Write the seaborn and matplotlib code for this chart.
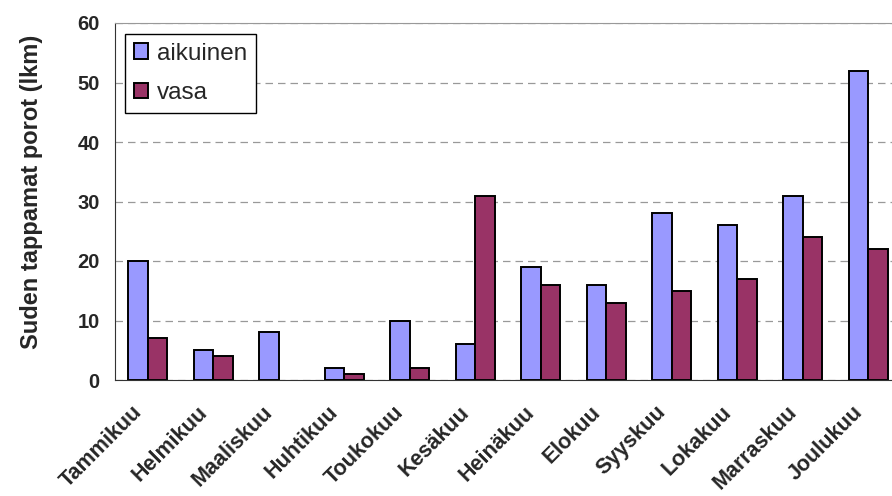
import numpy as np
import pandas as pd
import matplotlib
matplotlib.use("Agg")
import matplotlib.pyplot as plt
import matplotlib.transforms as mtransforms
import seaborn as sns

# data
months = ["Tammikuu", "Helmikuu", "Maaliskuu", "Huhtikuu", "Toukokuu", "Kesäkuu",
          "Heinäkuu", "Elokuu", "Syyskuu", "Lokakuu", "Marraskuu", "Joulukuu"]
aikuinen = [20, 5, 8, 2, 10, 6, 19, 16, 28, 26, 31, 52]
vasa = [7, 4, 0, 1, 2, 31, 16, 13, 15, 17, 24, 22]
series = ["aikuinen", "vasa"]
colors = ["#9999FF", "#993366"]

df = pd.DataFrame({
    "kuukausi": months * 2,
    "lkm": aikuinen + vasa,
    "sarja": ["aikuinen"] * len(months) + ["vasa"] * len(months),
})

sns.set_style("white")
plt.rcParams["font.family"] = ["Liberation Sans", "DejaVu Sans"]

fig = plt.figure(figsize=(8.92, 4.96), dpi=100)
# plot area runs a little past the right edge of the image
ax = fig.add_axes([115 / 892, 116 / 496, 786 / 892, 357 / 496])

sns.barplot(data=df, x="kuukausi", y="lkm", hue="sarja", hue_order=series,
            palette=colors, width=0.6, edgecolor="black", linewidth=1.4,
            saturation=1, ax=ax)

leg = ax.legend(loc="upper left", bbox_to_anchor=(125 / 892, 1 - 34 / 496),
                bbox_transform=fig.transFigure, borderaxespad=0, fontsize=17.5,
                frameon=True, fancybox=False, edgecolor="black", framealpha=1,
                handlelength=0.6, handleheight=0.6, handletextpad=0.35,
                labelspacing=0.72, borderpad=0.36)
leg.get_frame().set_linewidth(1)

# zero bars are not drawn in the original
for p in ax.patches:
    if p.get_height() == 0:
        p.set_visible(False)

ax.set_xlim(-0.5, len(months) - 0.5)
ax.set_ylim(0, 60)
ax.set_yticks(range(0, 61, 10))
ax.yaxis.grid(True, linestyle=(0, (6, 4)), color="#999999", linewidth=0.9)
ax.set_axisbelow(True)

# category boundary ticks like the original
ax.set_xticks(np.arange(-0.5, len(months), 1), minor=True)
ax.tick_params(axis="x", which="major", length=0, pad=21)
ax.tick_params(axis="x", which="minor", length=6, width=1, color="#333333", direction="out")
ax.tick_params(axis="y", length=6, width=1, color="#333333", direction="out", pad=5)
ax.set_xticklabels(months, rotation=45, ha="right", va="center", rotation_mode="anchor",
                   fontsize=15.5, fontweight="bold")
shift = mtransforms.ScaledTranslation(-9 / 100, 0, fig.dpi_scale_trans)
for t in ax.get_xticklabels():
    t.set_transform(t.get_transform() + shift)
for t in ax.get_yticklabels():
    t.set_fontsize(14.5)
    t.set_fontweight("bold")

ax.spines["top"].set_color("#999999")
ax.spines["right"].set_visible(False)
ax.spines["left"].set_color("#333333")
ax.spines["bottom"].set_color("#333333")

ax.set_xlabel("")
ax.set_ylabel("Suden tappamat porot (lkm)", fontsize=17, fontweight="bold")
ax.yaxis.set_label_coords(-0.092, 0.527)

fig.savefig("out.png", dpi=100)
